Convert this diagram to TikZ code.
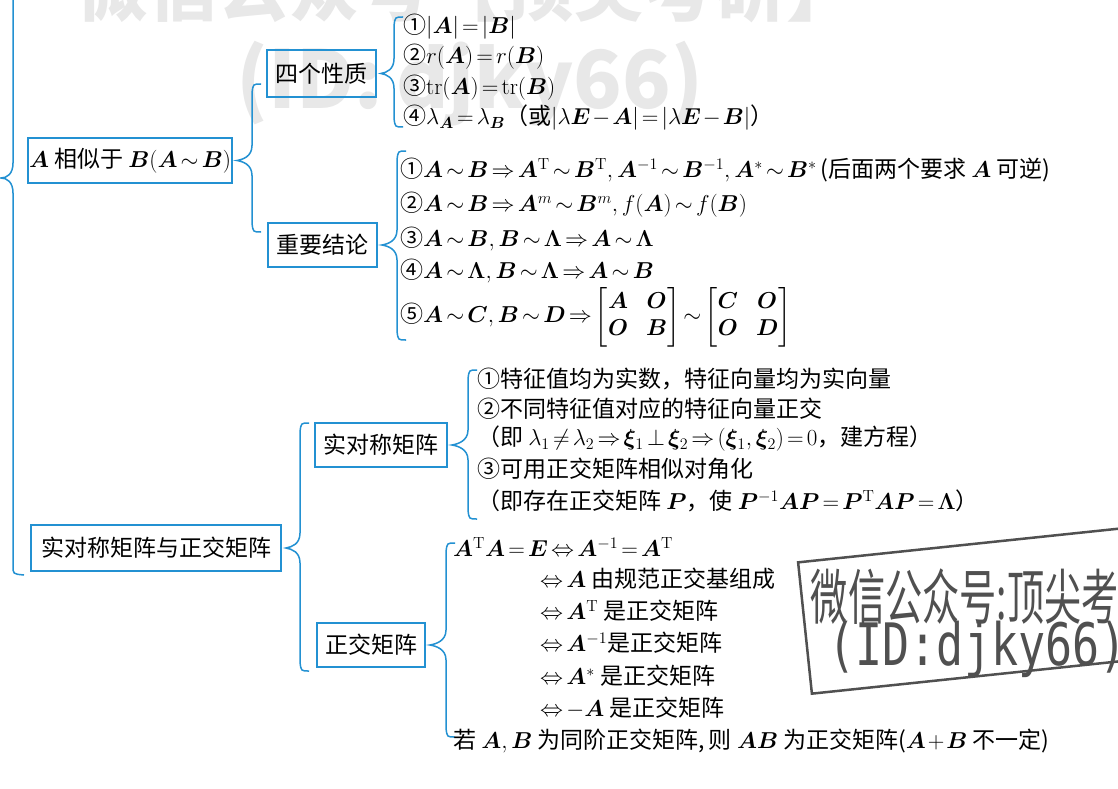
\RequirePackage{fix-cm}
\documentclass[tikz,border=0pt]{standalone}
\usepackage{amsmath}
\usepackage{bm}
\usepackage[no-math]{fontspec}
\setmainfont{Noto Sans CJK SC}
\newfontfamily\stampmono{DejaVu Sans Mono}
\usetikzlibrary{calc}
\definecolor{lineblue}{RGB}{35,145,210}
\definecolor{stampgray}{RGB}{80,80,80}
\definecolor{wmgray}{RGB}{232,232,232}
\thickmuskip=2.5mu plus 1mu
\medmuskip=1.5mu plus 1mu
\newcommand\mybrace[4]{%
  \draw[brc] let \p1=(#1.east) in
    ({#2pt+9pt},{-#3pt}) .. controls ({#2pt+1pt},{-#3pt}) .. ({#2pt},{-#3pt-9pt})
    -- ({#2pt},{\y1+15pt})
    .. controls ({#2pt},{\y1+4pt}) and ({\x1+10pt},{\y1+1pt}) .. ({\x1+4pt},{\y1})
    .. controls ({\x1+10pt},{\y1-1pt}) and ({#2pt},{\y1-4pt}) .. ({#2pt},{\y1-15pt})
    -- ({#2pt},{-#4pt+9pt}) .. controls ({#2pt+1pt},{-#4pt}) .. ({#2pt+9pt},{-#4pt});}
\newcommand\T{\mathrm{T}}
\begin{document}
\begin{tikzpicture}[x=1pt,y=-1pt,
  bx/.style={draw=lineblue, line width=1.8pt, inner sep=0pt,
    font=\fontsize{23}{27}\selectfont},
  it/.style={anchor=west, inner sep=0pt, font=\fontsize{23}{27}\selectfont},
  brc/.style={draw=lineblue, line width=1.5pt}]
\useasboundingbox[fill=white] (0,0) rectangle (1118,789);
% faded watermark
\node[text=wmgray, font=\fontsize{71}{71}\selectfont\bfseries] (wm1) at (467,-12) {微信公众号【顶尖考研】};
\node[text=wmgray, font=\fontsize{80}{80}\selectfont\bfseries] (wm2) at (470,84) {(ID:\,djky66)};
% root brace
\coordinate (rootTip) at (1,178);
\draw[brc] (13,-5) -- (13,163) .. controls (13,174) and (7,178) .. (rootTip)
  .. controls (7,178) and (13,182) .. (13,193) -- (13,566) .. controls (13,574) .. (24,575);
% boxes
\node[bx, minimum width=204pt, minimum height=45pt] (sim) at (130,160.5) {$\bm A$ 相似于 $\bm B(\bm A\sim\bm B)$};
\node[bx, minimum width=109pt, minimum height=47pt] (four) at (321.5,73.5) {四个性质};
\node[bx, minimum width=109pt, minimum height=44pt] (key) at (322.5,245) {重要结论};
\node[bx, minimum width=250pt, minimum height=46pt] (ro) at (156,548) {实对称矩阵与正交矩阵};
\node[bx, minimum width=132pt, minimum height=44pt] (rs) at (381,445) {实对称矩阵};
\node[bx, minimum width=108pt, minimum height=44pt] (orth) at (371,645) {正交矩阵};
% braces
\mybrace{sim}{252}{84}{232}
\mybrace{four}{394}{17}{127}
\mybrace{key}{397}{151}{340}
\mybrace{ro}{300}{423}{671}
\mybrace{rs}{468}{370}{519}
\mybrace{orth}{446}{543}{737}
% four properties
\node[it] (f1) at (403,27) {①$|\bm A|=|\bm B|$};
\node[it] (f2) at (403,57) {②$r(\bm A)=r(\bm B)$};
\node[it] (f3) at (403,88) {③$\mathrm{tr}(\bm A)=\mathrm{tr}(\bm B)$};
\node[it] (f4) at (403,118) {④$\lambda_{\bm A}=\lambda_{\bm B}$（或$|\lambda\bm E-\bm A|=|\lambda\bm E-\bm B|$）};
% key conclusions
\node[it] (k1) at (400,170) {①$\bm A\sim\bm B\Rightarrow\bm A^{\T}\sim\bm B^{\T},\bm A^{-1}\sim\bm B^{-1},\bm A^{*}\sim\bm B^{*}$\,(后面两个要求 $\bm A$ 可逆)};
\node[it] (k2) at (400,205) {②$\bm A\sim\bm B\Rightarrow\bm A^{m}\sim\bm B^{m},f(\bm A)\sim f(\bm B)$};
\node[it] (k3) at (400,239) {③$\bm A\sim\bm B,\bm B\sim\bm\Lambda\Rightarrow\bm A\sim\bm\Lambda$};
\node[it] (k4) at (400,271) {④$\bm A\sim\bm\Lambda,\bm B\sim\bm\Lambda\Rightarrow\bm A\sim\bm B$};
\node[it] (k5) at (400,317) {⑤$\bm A\sim\bm C,\bm B\sim\bm D\Rightarrow\setlength{\arraycolsep}{9pt}\begin{bmatrix}\bm A&\bm O\\\bm O&\bm B\end{bmatrix}\sim\begin{bmatrix}\bm C&\bm O\\\bm O&\bm D\end{bmatrix}$};
% real symmetric
\node[it] (r1) at (477,379) {①特征值均为实数，特征向量均为实向量};
\node[it] (r2) at (477,409) {②不同特征值对应的特征向量正交};
\node[it] (r3) at (477,439) {（即 $\lambda_1\neq\lambda_2\Rightarrow\bm\xi_1\perp\bm\xi_2\Rightarrow(\bm\xi_1,\bm\xi_2)=0$，建方程）};
\node[it] (r4) at (477,469) {③可用正交矩阵相似对角化};
\node[it] (r5) at (477,501) {（即存在正交矩阵 $\bm P$，使 $\bm P^{-1}\bm{AP}=\bm P^{\T}\bm{AP}=\bm\Lambda$）};
% orthogonal
\node[it] (o1) at (453,547) {$\bm A^{\T}\bm A=\bm E\Leftrightarrow\bm A^{-1}=\bm A^{\T}$};
\node[it] (o2) at (540,579) {$\Leftrightarrow\bm A$ 由规范正交基组成};
\node[it] (o3) at (540,611) {$\Leftrightarrow\bm A^{\T}$ 是正交矩阵};
\node[it] (o4) at (540,643) {$\Leftrightarrow\bm A^{-1}$是正交矩阵};
\node[it] (o5) at (540,676) {$\Leftrightarrow\bm A^{*}$ 是正交矩阵};
\node[it] (o6) at (540,708) {$\Leftrightarrow-\bm A$ 是正交矩阵};
\node[it] (o7) at (453,741) {若 $\bm A,\bm B$ 为同阶正交矩阵,\,则 $\bm{AB}$ 为正交矩阵($\bm A+\bm B$ 不一定)};
% stamp
\begin{scope}[rotate around={6:(805,628)}]
  \draw[stampgray, line width=2.5pt] (805,562) rectangle (1320,694);
  \node[anchor=west, inner sep=0pt, text=stampgray, xscale=0.62, font=\fontsize{60}{60}\selectfont] (st1) at (814,597) {微信公众号:顶尖考研};
  \node[anchor=west, inner sep=0pt, text=stampgray, yscale=1.3, font=\fontsize{45}{45}\selectfont\stampmono] (st2) at (826,652) {(ID:djky66)};
\end{scope}
\end{tikzpicture}
\end{document}
